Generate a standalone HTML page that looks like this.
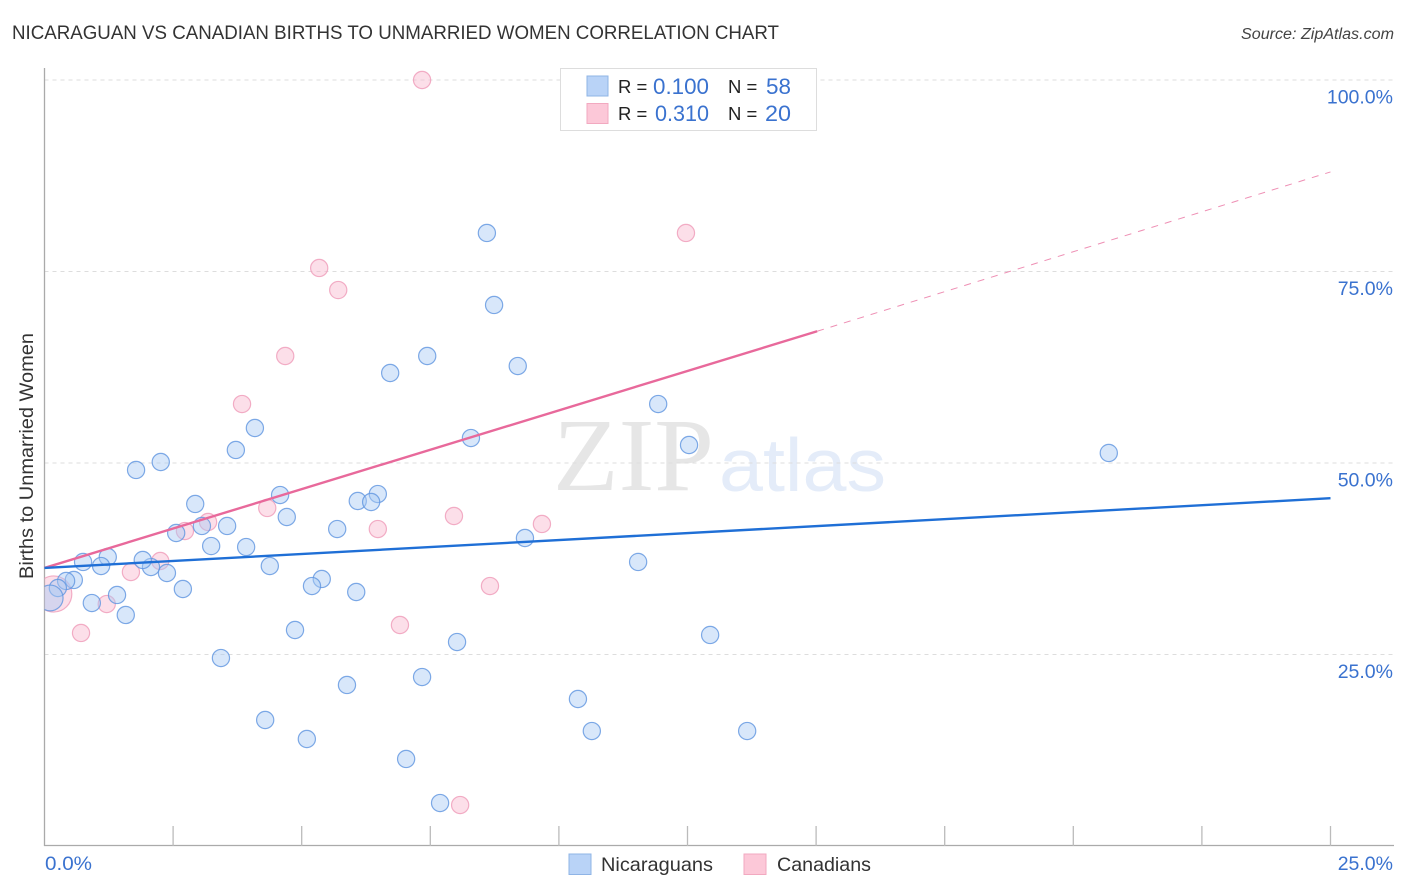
<!DOCTYPE html>
<html>
<head>
<meta charset="utf-8">
<title>Nicaraguan vs Canadian Births to Unmarried Women Correlation Chart</title>
<style>
html,body{margin:0;padding:0;background:#fff;}
svg{display:block;font-family:"Liberation Sans",sans-serif;}
</style>
</head>
<body>
<svg id="chart" width="1406" height="892" viewBox="0 0 1406 892" xmlns="http://www.w3.org/2000/svg">
  <defs><clipPath id="plot-clip"><rect x="44.5" y="60" width="1350" height="786"/></clipPath></defs>
  <text x="12" y="39" font-size="19" fill="#333" textLength="767" lengthAdjust="spacingAndGlyphs">NICARAGUAN VS CANADIAN BIRTHS TO UNMARRIED WOMEN CORRELATION CHART</text>
  <text x="1241" y="39" font-size="15.5" font-style="italic" fill="#444" textLength="153" lengthAdjust="spacingAndGlyphs">Source: ZipAtlas.com</text>
  <text transform="translate(33,579) rotate(-90)" font-size="19" fill="#333" textLength="246" lengthAdjust="spacingAndGlyphs">Births to Unmarried Women</text>
  <g>
    <text x="553" y="490" font-family="'Liberation Serif',serif" font-size="104" fill="#e6e6e6" textLength="161" lengthAdjust="spacingAndGlyphs">ZIP</text>
    <text x="719" y="491" font-size="75" fill="#e4ecf9" textLength="167" lengthAdjust="spacingAndGlyphs">atlas</text>
  </g>
  <g id="grid"></g>
  <g id="axes"></g>
  <g id="series-canadians" clip-path="url(#plot-clip)"></g>
  <g id="series-nicaraguans" clip-path="url(#plot-clip)"></g>
  <g id="trends"></g>
  <g>
    <rect x="560.5" y="68.5" width="256" height="62" fill="#fff" stroke="#ddd"/>
    <rect x="587" y="76" width="21" height="20" fill="#b9d3f7" stroke="#8fb4e6"/>
    <rect x="587" y="103.500" width="21" height="20" fill="#fcc8d8" stroke="#f2a9c0"/>
    <text x="618" y="93" font-size="18.500" fill="#222">R =</text>
    <text x="653" y="94" font-size="22" fill="#3a72cf" textLength="56" lengthAdjust="spacingAndGlyphs">0.100</text>
    <text x="728" y="93" font-size="18.500" fill="#222">N =</text>
    <text x="766" y="94" font-size="22" fill="#3a72cf" textLength="25" lengthAdjust="spacingAndGlyphs">58</text>
    <text x="618" y="120" font-size="18.500" fill="#222">R =</text>
    <text x="655" y="121" font-size="22" fill="#3a72cf" textLength="54" lengthAdjust="spacingAndGlyphs">0.310</text>
    <text x="728" y="120" font-size="18.500" fill="#222">N =</text>
    <text x="765" y="121" font-size="22" fill="#3a72cf" textLength="26" lengthAdjust="spacingAndGlyphs">20</text>
  </g>
  <g>
    <rect x="569" y="854" width="22" height="20.500" fill="#b9d3f7" stroke="#8fb4e6"/>
    <text x="601" y="871" font-size="19.500" fill="#333" textLength="112" lengthAdjust="spacingAndGlyphs">Nicaraguans</text>
    <rect x="744" y="854" width="22" height="20.500" fill="#fcc8d8" stroke="#f2a9c0"/>
    <text x="777" y="871" font-size="19.500" fill="#333" textLength="94" lengthAdjust="spacingAndGlyphs">Canadians</text>
  </g>
</svg>
<script>
const yTicks = [25, 50, 75, 100];
const yTickLabels = ["25.0%", "50.0%", "75.0%", "100.0%"];
const xTicks = [0, 2.5, 5, 7.5, 10, 12.5, 15, 17.5, 20, 22.5, 25];
const xEndLabels = ["0.0%", "25.0%"];

const nicaraguanX = [8.60,8.74,9.20,7.44,6.72,11.93,12.53,8.29,20.69,4.09,3.72,2.26,1.78,2.93,4.58,6.48,6.09,6.35,4.71,5.69,3.55,3.06,2.56,3.24,3.92,4.38,9.34,11.54,5.39,5.20,6.06,2.69,2.38,2.07,1.91,1.23,0.75,1.10,0.57,0.42,0.26,0.11,0.92,1.41,1.58,4.87,8.02,12.94,3.43,5.88,7.34,10.37,10.64,13.66,4.29,5.10,7.03,7.69];
const nicaraguanY = [80.03,70.63,62.66,63.97,61.75,57.70,52.35,53.26,51.31,54.57,51.70,50.13,49.09,44.65,45.82,45.95,45.04,44.91,42.95,41.38,41.78,41.78,40.86,39.16,39.03,36.55,40.21,37.08,34.86,33.94,33.16,33.55,35.64,36.42,37.34,37.73,37.08,36.55,34.73,34.60,33.68,32.38,31.72,32.77,30.16,28.20,26.63,27.55,24.54,21.02,22.06,19.19,15.01,15.01,16.45,13.97,11.36,5.61];
const nicaraguanSize = [1,1,1,1,1,1,1,1,1,1,1,1,1,1,1,1,1,1,1,1,1,1,1,1,1,1,1,1,1,1,1,1,1,1,1,1,1,1,1,1,1,1.5,1,1,1,1,1,1,1,1,1,1,1,1,1,1,1,1];

const canadianX = [7.34,12.47,5.34,5.71,4.68,3.84,4.33,3.18,2.73,6.48,7.96,9.67,2.25,1.68,1.21,0.71,8.66,6.91,8.08,0.18];
const canadianY = [100,80.03,75.46,72.58,63.97,57.70,44.13,42.30,41.12,41.38,43.08,42.04,37.21,35.77,31.59,27.81,33.94,28.85,5.35,32.90];
const canadianSize = [1,1,1,1,1,1,1,1,1,1,1,1,1,1,1,1,1,1,1,2.1];

const nicaraguanTrend = [36.3, 45.4];
const canadianTrend = [36.3, 67.2, 88];
const trendX = [0, 15.02, 25];

const SVG_NS = "http://www.w3.org/2000/svg";
function xScale(v) { return 44.5 + v * 51.44; }
function yScale(v) { return 846 - v * 7.66; }
function make(tag, attrs, parent) {
  const el = document.createElementNS(SVG_NS, tag);
  for (const k in attrs) el.setAttribute(k, attrs[k]);
  parent.appendChild(el);
  return el;
}
const grid = document.getElementById("grid");
const axes = document.getElementById("axes");

yTicks.forEach(function (t, i) {
  const line = make("line", {x1: 44.5, x2: 1394, y1: yScale(t), y2: yScale(t), stroke: "#ddd", "stroke-width": 1, "stroke-dasharray": "4 4"}, grid);
  
  
  const label = make("text", {x: 1393, y: yScale(t) + 23.5, "text-anchor": "end", "font-size": 19.5, fill: "#3a72cf"}, axes);
  
  
  label.textContent = yTickLabels[i];
});

const yAxis = make("line", {x1: 44.5, x2: 44.5, y1: 68, y2: 846, stroke: "#aaa", "stroke-width": 1.3}, axes);


const xAxis = make("line", {x1: 44, x2: 1394, y1: 845.5, y2: 845.5, stroke: "#aaa", "stroke-width": 1.3}, axes);



xTicks.slice(1).forEach(function (t) {
  const tick = make("line", {x1: xScale(t), x2: xScale(t), y1: 826, y2: 846, stroke: "#bbb", "stroke-width": 1.3}, axes);
  
  
});

const xLabelStart = make("text", {x: 45, y: 870, "font-size": 19.5, fill: "#3a72cf", textLength: 47, lengthAdjust: "spacingAndGlyphs"}, axes);


xLabelStart.textContent = xEndLabels[0];
const xLabelEnd = make("text", {x: 1393, y: 870, "text-anchor": "end", "font-size": 19.5, fill: "#3a72cf"}, axes);


xLabelEnd.textContent = xEndLabels[1];

const canadianGroup = document.getElementById("series-canadians");
canadianX.forEach(function (v, i) {
  const dot = make("circle", {cx: xScale(v), cy: yScale(canadianY[i]), r: 8.6 * canadianSize[i], fill: "#f9b9cf", "fill-opacity": 0.45, stroke: "#f0a0bc", "stroke-opacity": 0.85, "stroke-width": 1.2}, canadianGroup);
  
  
});

const nicaraguanGroup = document.getElementById("series-nicaraguans");
nicaraguanX.forEach(function (v, i) {
  const dot = make("circle", {cx: xScale(v), cy: yScale(nicaraguanY[i]), r: 8.6 * nicaraguanSize[i], fill: "#a9c9f3", "fill-opacity": 0.45, stroke: "#5f95e0", "stroke-opacity": 0.8, "stroke-width": 1.2}, nicaraguanGroup);
  
  
});

const trends = document.getElementById("trends");
const pinkSolid = make("line", {x1: xScale(trendX[0]), y1: yScale(canadianTrend[0]), x2: xScale(trendX[1]), y2: yScale(canadianTrend[1]), stroke: "#e8699b", "stroke-width": 2.4}, trends);


const pinkDash = make("line", {x1: xScale(trendX[1]), y1: yScale(canadianTrend[1]), x2: xScale(trendX[2]), y2: yScale(canadianTrend[2]), stroke: "#e8699b", "stroke-width": 1, "stroke-opacity": 0.75, "stroke-dasharray": "7 7"}, trends);


const blueLine = make("line", {x1: xScale(trendX[0]), y1: yScale(nicaraguanTrend[0]), x2: xScale(trendX[2]), y2: yScale(nicaraguanTrend[1]), stroke: "#1f6fd6", "stroke-width": 2.4}, trends);


</script>
</body>
</html>
